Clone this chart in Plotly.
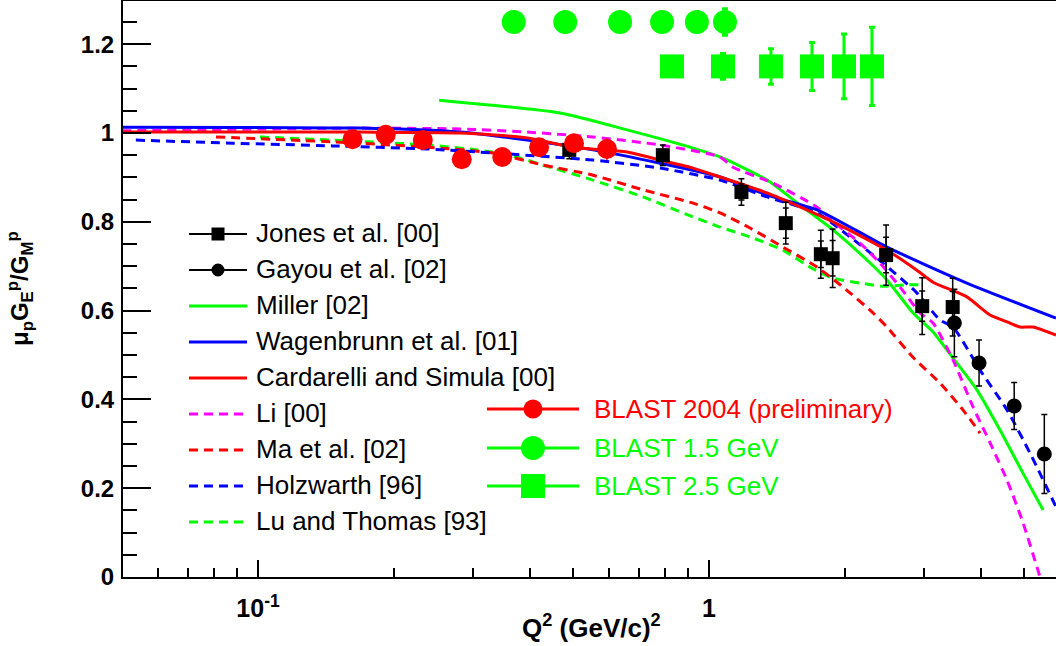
import math
import plotly.graph_objects as go

# ---------------- data ----------------
# Jones et al. [00]
jones_q2 = [0.49, 0.79, 1.18, 1.48, 1.77, 1.88, 2.47, 2.97, 3.47]
jones_ratio = [0.962, 0.950, 0.867, 0.797, 0.727, 0.718, 0.725, 0.610, 0.608]
jones_err_tot = [0.020, 0.023, 0.030, 0.047, 0.054, 0.066, 0.068, 0.064, 0.065]
jones_err_stat = [0.012, 0.013, 0.018, 0.034, 0.030, 0.040, 0.040, 0.034, 0.035]

# Gayou et al. [02]
gayou_q2 = [3.50, 3.97, 4.75, 5.54]
gayou_ratio = [0.572, 0.482, 0.385, 0.277]
gayou_err = [0.076, 0.052, 0.053, 0.089]

# BLAST 2004 (preliminary)
blast04_q2 = [0.162, 0.192, 0.232, 0.283, 0.348, 0.420, 0.502, 0.594]
blast04_ratio = [0.986, 0.996, 0.984, 0.941, 0.946, 0.968, 0.977, 0.964]
blast04_err = [0.008, 0.008, 0.008, 0.010, 0.010, 0.012, 0.015, 0.024]

# BLAST 1.5 GeV projection
blast15_q2 = [0.369, 0.480, 0.635, 0.787, 0.940, 1.085]
blast15_ratio = [1.25, 1.25, 1.25, 1.25, 1.25, 1.25]
blast15_err = [0.010, 0.012, 0.014, 0.017, 0.022, 0.030]

# BLAST 2.5 GeV projection
blast25_q2 = [0.828, 1.074, 1.372, 1.692, 1.992, 2.298]
blast25_ratio = [1.15, 1.15, 1.15, 1.15, 1.15, 1.15]
blast25_err = [0.020, 0.029, 0.040, 0.054, 0.073, 0.088]

# Model curves
miller_q2 = [0.252, 0.468, 0.658, 0.922, 1.058, 1.345, 1.591, 1.883, 2.240, 2.481,
             2.833, 3.139, 3.476, 3.930, 4.418, 4.967, 5.505]
miller_ratio = [1.074, 1.045, 1.007, 0.966, 0.946, 0.894, 0.838, 0.782, 0.714, 0.669,
                0.595, 0.552, 0.493, 0.421, 0.331, 0.234, 0.151]

wag_q2 = [0.050, 0.168, 0.281, 0.395, 0.553, 0.779, 1.058, 1.345, 1.736, 2.481, 3.73, 5.88]
wag_ratio = [1.013, 1.011, 1.002, 0.984, 0.962, 0.932, 0.901, 0.860, 0.827, 0.743, 0.662, 0.583]

card_q2 = [0.050, 0.168, 0.281, 0.395, 0.499, 0.658, 0.779, 0.922, 1.058, 1.345, 1.883,
           2.481, 2.89, 3.139, 3.73, 4.20, 4.65, 4.89, 5.23, 5.88]
card_ratio = [1.002, 1.002, 1.000, 0.989, 0.968, 0.957, 0.939, 0.921, 0.901, 0.865, 0.800,
              0.736, 0.691, 0.664, 0.631, 0.590, 0.572, 0.563, 0.563, 0.545]

li_q2 = [0.050, 0.168, 0.281, 0.395, 0.553, 0.779, 1.058, 1.130, 1.387, 1.736, 1.952,
         2.162, 2.394, 2.652, 2.937, 3.139, 3.476, 3.85, 4.20, 4.58, 4.97, 5.42]
li_ratio = [1.005, 1.011, 1.009, 1.002, 0.991, 0.973, 0.946, 0.923, 0.887, 0.833, 0.788,
            0.752, 0.707, 0.653, 0.595, 0.572, 0.489, 0.383, 0.302, 0.218, 0.122, 0.0]

ma_q2 = [0.0807, 0.1466, 0.237, 0.332, 0.428, 0.553, 0.714, 0.922, 1.058, 1.233, 1.459,
         1.736, 1.982, 2.31, 2.481, 2.833, 3.25, 3.66, 3.99]
ma_ratio = [0.991, 0.980, 0.968, 0.955, 0.928, 0.905, 0.872, 0.842, 0.820, 0.786, 0.743,
            0.698, 0.653, 0.595, 0.563, 0.495, 0.437, 0.376, 0.324]

holz_q2 = [0.0536, 0.088, 0.1466, 0.237, 0.332, 0.553, 0.779, 1.058, 1.345, 1.736, 2.054,
           2.43, 2.89, 3.25, 3.476, 3.99, 4.58, 5.15, 5.88]
holz_ratio = [0.984, 0.977, 0.971, 0.964, 0.955, 0.939, 0.921, 0.894, 0.856, 0.820, 0.766,
              0.707, 0.640, 0.579, 0.563, 0.466, 0.376, 0.279, 0.158]

lu_q2 = [0.101, 0.1466, 0.237, 0.306, 0.362, 0.428, 0.553, 0.714, 0.922, 1.058, 1.233,
         1.459, 1.675, 1.883, 2.162, 2.43, 2.748, 2.937]
lu_ratio = [0.991, 0.984, 0.973, 0.962, 0.950, 0.928, 0.894, 0.856, 0.811, 0.788, 0.766,
            0.736, 0.698, 0.673, 0.662, 0.655, 0.658, 0.658]

y_tick_vals = [0, 0.2, 0.4, 0.6, 0.8, 1.0, 1.2]
y_tick_text = ["0", "0.2", "0.4", "0.6", "0.8", "1", "1.2"]
x_tick_vals = [0.1, 1]
x_tick_text = ["10<sup>-1</sup>", "1"]
x_minor_vals = [0.06, 0.07, 0.08, 0.09, 0.2, 0.3, 0.4, 0.5, 0.6, 0.7, 0.8, 0.9, 2, 3, 4, 5]

# ---------------- layout constants ----------------
W, H = 1056, 646
ML, MR, MT, MB = 123, 0, 1, 69
PW, PH = W - ML - MR, H - MT - MB
FONT = "Liberation Sans, Arial, Helvetica, sans-serif"
GREEN, BLUE, RED, MAGENTA, BLACK = "#00ff00", "#0000ff", "#ff0000", "#ff00ff", "#000000"
DASH = "9px,6px"


def px(x):
    return (x - ML) / PW


def py(y):
    return (H - MB - y) / PH


fig = go.Figure()

curves = [
    (miller_q2, miller_ratio, GREEN, "solid"),
    (lu_q2, lu_ratio, GREEN, DASH),
    (ma_q2, ma_ratio, RED, DASH),
    (holz_q2, holz_ratio, BLUE, DASH),
    (li_q2, li_ratio, MAGENTA, DASH),
    (wag_q2, wag_ratio, BLUE, "solid"),
    (card_q2, card_ratio, RED, "solid"),
]
for xs, ys, col, dash in curves:
    fig.add_trace(go.Scatter(x=xs, y=ys, mode="lines",
                             line=dict(color=col, width=3, dash=dash, shape="spline", smoothing=0.6),
                             hoverinfo="skip"))

# Jones: statistical (inner) and total errors
fig.add_trace(go.Scatter(x=jones_q2, y=jones_ratio, mode="markers",
                         marker=dict(size=1, color="rgba(0,0,0,0)"),
                         error_y=dict(type="data", array=jones_err_stat, color=BLACK, thickness=1.5, width=3)))
fig.add_trace(go.Scatter(x=jones_q2, y=jones_ratio, mode="markers",
                         marker=dict(symbol="square", size=14, color=BLACK),
                         error_y=dict(type="data", array=jones_err_tot, color=BLACK, thickness=1.5, width=3)))
fig.add_trace(go.Scatter(x=gayou_q2, y=gayou_ratio, mode="markers",
                         marker=dict(symbol="circle", size=15, color=BLACK),
                         error_y=dict(type="data", array=gayou_err, color=BLACK, thickness=1.5, width=3)))
fig.add_trace(go.Scatter(x=blast04_q2, y=blast04_ratio, mode="markers",
                         marker=dict(symbol="circle", size=20, color=RED),
                         error_y=dict(type="data", array=blast04_err, color=RED, thickness=2, width=0)))
fig.add_trace(go.Scatter(x=blast15_q2, y=blast15_ratio, mode="markers",
                         marker=dict(symbol="circle", size=24, color=GREEN),
                         error_y=dict(type="data", array=blast15_err, color=GREEN, thickness=3, width=3)))
fig.add_trace(go.Scatter(x=blast25_q2, y=blast25_ratio, mode="markers",
                         marker=dict(symbol="square", size=24, color=GREEN),
                         error_y=dict(type="data", array=blast25_err, color=GREEN, thickness=3, width=3)))
# empty trace that keeps the minor-tick overlay axis alive
fig.add_trace(go.Scatter(x=[], y=[], xaxis="x2", yaxis="y", mode="markers", hoverinfo="skip"))

# ---------------- hand-made legends ----------------
shapes = []
annotations = []

left_rows = [
    ("Jones et al. [00]", BLACK, "solid", 2, "square"),
    ("Gayou et al. [02]", BLACK, "solid", 2, "circle"),
    ("Miller [02]", GREEN, "solid", 3, None),
    ("Wagenbrunn et al. [01]", BLUE, "solid", 3, None),
    ("Cardarelli and Simula [00]", RED, "solid", 3, None),
    ("Li [00]", MAGENTA, DASH, 3, None),
    ("Ma et al. [02]", RED, DASH, 3, None),
    ("Holzwarth [96]", BLUE, DASH, 3, None),
    ("Lu and Thomas [93]", GREEN, DASH, 3, None),
]
ly0, ldy = 234, 36
lx0, lx1, ltx = 189, 247, 254
for i, (txt, col, dash, lw, sym) in enumerate(left_rows):
    yy = ly0 + i * ldy
    shapes.append(dict(type="line", xref="paper", yref="paper", x0=px(lx0), x1=px(lx1),
                       y0=py(yy), y1=py(yy), line=dict(color=col, width=lw, dash=dash)))
    if sym:
        r = 6.5
        cx = (lx0 + lx1) / 2
        shapes.append(dict(type="circle" if sym == "circle" else "rect", xref="paper", yref="paper",
                           x0=px(cx - r), x1=px(cx + r), y0=py(yy + r), y1=py(yy - r),
                           fillcolor=col, line=dict(color=col, width=0)))
    annotations.append(dict(text=txt, xref="paper", yref="paper", x=px(ltx), y=py(yy - 1),
                            xanchor="left", yanchor="middle", showarrow=False,
                            font=dict(family=FONT, size=26, color=BLACK)))

right_rows = [
    ("BLAST 2004 (preliminary)", RED, "circle", 9.5),
    ("BLAST 1.5 GeV", GREEN, "circle", 12),
    ("BLAST 2.5 GeV", GREEN, "rect", 12),
]
ry = [409, 448, 486]
rx0, rx1, rtx = 487, 579, 592
for (txt, col, sym, r), yy in zip(right_rows, ry):
    shapes.append(dict(type="line", xref="paper", yref="paper", x0=px(rx0), x1=px(rx1),
                       y0=py(yy), y1=py(yy), line=dict(color=col, width=3)))
    cx = (rx0 + rx1) / 2
    shapes.append(dict(type=sym, xref="paper", yref="paper",
                       x0=px(cx - r), x1=px(cx + r), y0=py(yy + r), y1=py(yy - r),
                       fillcolor=col, line=dict(color=col, width=0)))
    annotations.append(dict(text=txt, xref="paper", yref="paper", x=px(rtx), y=py(yy),
                            xanchor="left", yanchor="middle", showarrow=False,
                            font=dict(family=FONT, size=26, color=col)))

# axis titles
annotations.append(dict(text="<b>μ<sub>p</sub>G<sub>E</sub><sup>p</sup>/G<sub>M</sub><sup>p</sup></b>",
                        xref="paper", yref="paper", x=px(20), y=py(289), textangle=-90,
                        xanchor="center", yanchor="middle", showarrow=False,
                        font=dict(family=FONT, size=24, color=BLACK)))
annotations.append(dict(text="<b>Q<sup>2</sup> (GeV/c)<sup>2</sup></b>",
                        xref="paper", yref="paper", x=px(591), y=py(626),
                        xanchor="center", yanchor="middle", showarrow=False,
                        font=dict(family=FONT, size=26, color=BLACK)))

xlo = -1 - (258 - ML) / 451.0
xhi = xlo + PW / 451.0
yhi = (H - MB - MT) / 444.0

fig.update_layout(
    width=W, height=H,
    margin=dict(l=ML, r=MR, t=MT, b=MB, autoexpand=False),
    paper_bgcolor="white", plot_bgcolor="white",
    showlegend=False,
    shapes=shapes, annotations=annotations,
    font=dict(family=FONT, color=BLACK),
    xaxis=dict(type="log", range=[xlo, xhi], showgrid=False, zeroline=False,
               showline=True, linewidth=2, linecolor=BLACK, mirror=True,
               ticks="inside", ticklen=17, tickwidth=1.5, tickcolor=BLACK,
               tickvals=x_tick_vals, ticktext=x_tick_text, ticklabelstandoff=8,
               tickfont=dict(family=FONT, size=25, color=BLACK, weight="bold")),
    xaxis2=dict(type="log", range=[xlo, xhi], overlaying="x", anchor="y", side="bottom",
                showgrid=False, zeroline=False, showline=False, showticklabels=False,
                ticks="inside", ticklen=9, tickwidth=1.5, tickcolor=BLACK,
                tickmode="array", tickvals=x_minor_vals),
    yaxis=dict(range=[0, yhi], showgrid=False, zeroline=False,
               showline=True, linewidth=2, linecolor=BLACK,
               ticks="inside", ticklen=28, tickwidth=1.5, tickcolor=BLACK,
               tickvals=y_tick_vals, ticktext=y_tick_text, ticklabelstandoff=2,
               tickfont=dict(family=FONT, size=24, color=BLACK, weight="bold"),
               minor=dict(dtick=0.05, tick0=0, ticks="inside", ticklen=14, tickwidth=1.5,
                          tickcolor=BLACK, showgrid=False)),
)

fig.write_html("out.html", config={"displayModeBar": False},
               post_script="document.body.style.margin='0';document.body.style.overflow='hidden';")
